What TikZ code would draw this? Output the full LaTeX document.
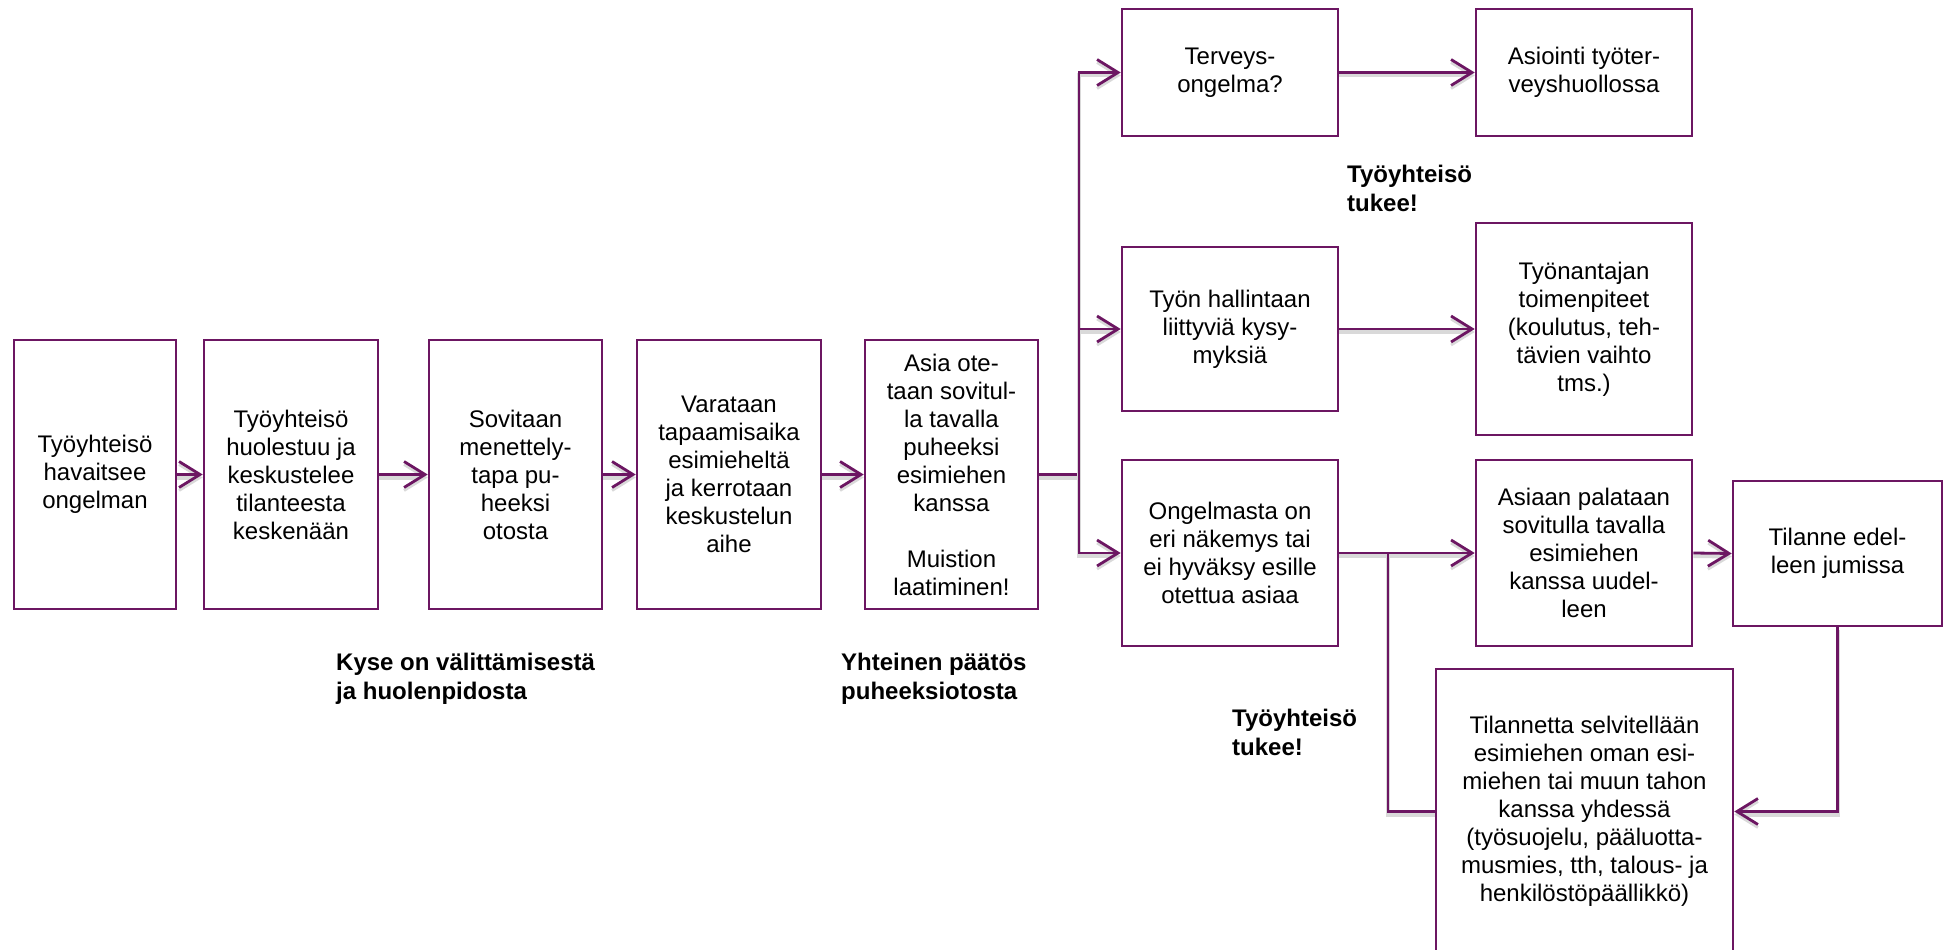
\documentclass[tikz,border=0pt]{standalone}
\usepackage{fontspec}
\setmainfont{Liberation Sans}
\usetikzlibrary{arrows.meta}
\definecolor{plum}{RGB}{108,22,98}
\tikzset{
  box/.style={draw=plum, line width=2.6pt, fill=white, inner sep=0pt, align=center,
    font=\fontsize{24}{28}\selectfont},
  conn/.style={draw=plum, line width=2.8pt,
    preaction={draw=black!15, line width=4pt, transform canvas={yshift=-3pt}}},
  arr/.style={conn, -{Straight Barb[length=21pt,width=26pt,line width=2.8pt]}},
  lbl/.style={anchor=west, align=left, inner sep=0pt, font=\bfseries\fontsize{24}{29}\selectfont}
}
\begin{document}
\begin{tikzpicture}[x=1pt,y=-1pt]
\useasboundingbox (0,0) rectangle (1944,950);
% main row
\node[box, minimum width=162pt, minimum height=269pt] (b1) at (95,474.5) {Työyhteisö\\havaitsee\\ongelman};
\node[box, minimum width=174pt, minimum height=269pt] (b2) at (291,474.5) {Työyhteisö\\huolestuu ja\\keskustelee\\tilanteesta\\keskenään};
\node[box, minimum width=173pt, minimum height=269pt] (b3) at (515.5,474.5) {Sovitaan\\menettely-\\tapa pu-\\heeksi\\otosta};
\node[box, minimum width=184pt, minimum height=269pt] (b4) at (729,474.5) {Varataan\\tapaamisaika\\esimieheltä\\ja kerrotaan\\keskustelun\\aihe};
\node[box, minimum width=173pt, minimum height=269pt] (b5) at (951.5,474.5) {Asia ote-\\taan sovitul-\\la tavalla\\puheeksi\\esimiehen\\kanssa\\[28pt]Muistion\\laatiminen!};
% right branches
\node[box, minimum width=216pt, minimum height=127pt] (t1) at (1230,72.5) {Terveys-\\ongelma?};
\node[box, minimum width=216pt, minimum height=127pt] (t2) at (1584,72.5) {Asiointi työter-\\veyshuollossa};
\node[box, minimum width=216pt, minimum height=164pt] (m1) at (1230,329) {Työn hallintaan\\liittyviä kysy-\\myksiä};
\node[box, minimum width=216pt, minimum height=212pt] (m2) at (1584,329) {Työnantajan\\toimenpiteet\\(koulutus, teh-\\tävien vaihto\\tms.)};
\node[box, minimum width=216pt, minimum height=186pt] (o1) at (1230,553) {Ongelmasta on\\eri näkemys tai\\ei hyväksy esille\\otettua asiaa};
\node[box, minimum width=216pt, minimum height=186pt] (o2) at (1584,553) {Asiaan palataan\\sovitulla tavalla\\esimiehen\\kanssa uudel-\\leen};
\node[box, minimum width=209pt, minimum height=145pt] (o3) at (1837.5,553.5) {Tilanne edel-\\leen jumissa};
\node[box, minimum width=297pt, minimum height=285pt] (s) at (1584.5,811.5) {Tilannetta selvitellään\\esimiehen oman esi-\\miehen tai muun tahon\\kanssa yhdessä\\(työsuojelu, pääluotta-\\musmies, tth, talous- ja\\henkilöstöpäällikkö)};
% labels
\node[lbl] (l1) at (336,679) {Kyse on välittämisestä\\ja huolenpidosta};
\node[lbl] (l2) at (841,679) {Yhteinen päätös\\puheeksiotosta};
\node[lbl] (l3) at (1347,188) {Työyhteisö\\tukee!};
\node[lbl] (l4) at (1232,732.5) {Työyhteisö\\tukee!};
% coordinates
\coordinate (J) at (1079,474.5);
\coordinate (K) at (1388,553);
% connectors
\draw[arr] (b1.east) -- (b2.west);
\draw[arr] (b2.east) -- (b3.west);
\draw[arr] (b3.east) -- (b4.west);
\draw[arr] (b4.east) -- (b5.west);
\draw[conn] (b5.east) -- (J);
\draw[arr] (J) |- (t1.west);
\draw[arr] (J) |- (m1.west);
\draw[arr] (J) |- (o1.west);
\draw[arr] (t1.east) -- (t2.west);
\draw[arr] (m1.east) -- (m2.west);
\draw[arr] (o1.east) -- (o2.west);
\draw[arr] (o2.east) -- (o3.west);
\draw[arr] (o3.south) |- (s.east);
\draw[conn] (s.west) -| (K);
\end{tikzpicture}
\end{document}
